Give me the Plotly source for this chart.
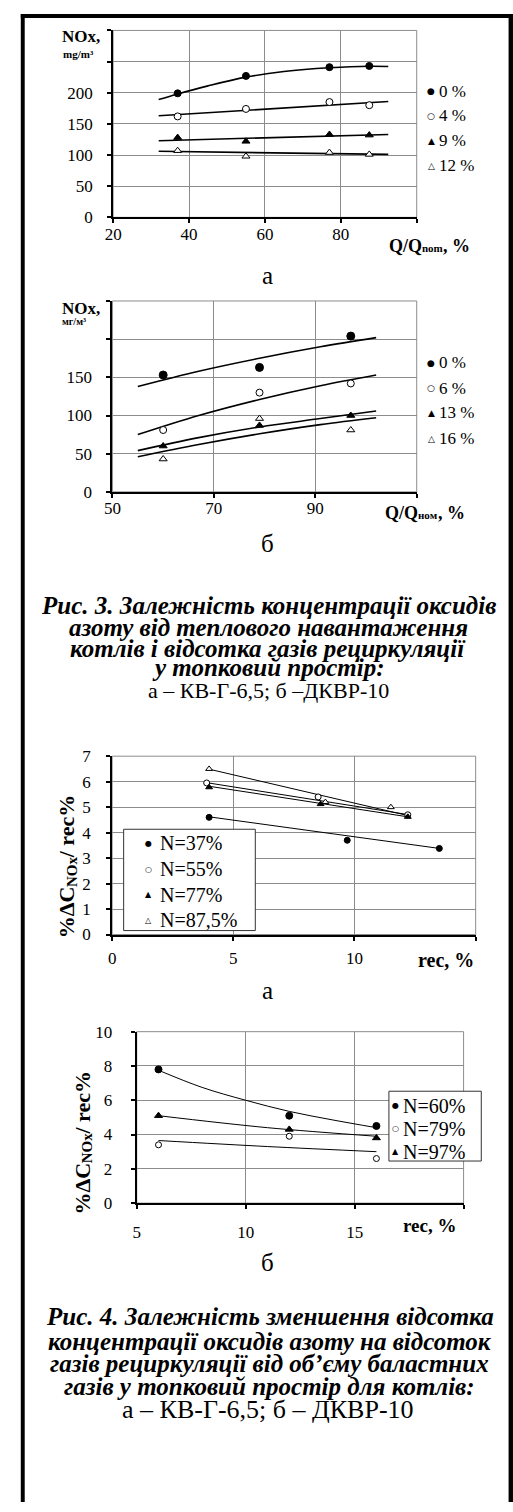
import plotly.graph_objects as go

# ---------------- DATA ----------------
# Fig.3a  (KV-G-6,5): NOx vs load, recirculation 0/4/9/12 %
load_a = [37, 55, 77, 87.5]
nox_a_0 = [199, 227, 241, 243]
nox_a_4 = [162, 174, 185, 180]
nox_a_9 = [128, 122, 133, 132]
nox_a_12 = [107, 98, 104, 101]
trend_a_x_curve = [32, 37, 45, 55, 65, 77, 87.5, 92.5]
trend_a_0 = [189, 198, 211, 225, 234, 240, 242.5, 242]
trend_a_x_line = [32, 92.5]
trend_a_4 = [163, 186]
trend_a_9 = [123, 133]
trend_a_12 = [106, 101]
legend_a = ["0 %", "4 %", "9 %", "12 %"]
xt_a, xt_a_extra = [20, 40, 60, 80], [100]
yt_a, yt_a_extra = [0, 50, 100, 150, 200], [250, 300]

# Fig.3b (DKVR-10)
load_b = [60, 79, 97]
nox_b_0 = [153, 163, 204]
nox_b_6 = [81, 130, 142]
nox_b_13 = [60, 87, 100]
nox_b_16 = [43, 96, 81]
trend_b_x = [55, 67, 79, 91, 102]
trend_b_0 = [138, 158, 175, 190, 202]
trend_b_6 = [75, 100, 121, 139, 153]
trend_b_13 = [54, 71, 85, 96, 106]
trend_b_16 = [46, 62, 76, 88, 97]
legend_b = ["0 %", "6 %", "13 %", "16 %"]
xt_b, xt_b_extra = [50, 70, 90], [110]
yt_b, yt_b_extra = [0, 50, 100, 150], [200, 250]

# Fig.4a
rec_4a_37 = [4.0, 9.7, 13.5]
val_4a_37 = [4.6, 3.7, 3.38]
rec_4a_55 = [3.9, 8.5, 12.2]
val_4a_55 = [5.95, 5.4, 4.7]
rec_4a_77 = [4.0, 8.6, 12.2]
val_4a_77 = [5.78, 5.12, 4.62]
rec_4a_875 = [4.0, 8.8, 11.5]
val_4a_875 = [6.5, 5.2, 5.0]
trend_4a_37_x = [4.0, 13.5]
trend_4a_37 = [4.62, 3.38]
trend_4a_55_x = [3.9, 12.2]
trend_4a_55 = [5.96, 4.71]
trend_4a_77_x = [4.0, 12.2]
trend_4a_77 = [5.82, 4.62]
trend_4a_875_x = [4.0, 12.2]
trend_4a_875 = [6.49, 4.67]
legend_4a = ["N=37%", "N=55%", "N=77%", "N=87,5%"]
xt_4a, xt_4a_extra = [0, 5, 10], [15]
yt_4a, yt_4a_extra = [0, 1, 2, 3, 4, 5, 6, 7], []

# Fig.4b
rec_4b = [6, 12, 16]
val_4b_60 = [7.8, 5.1, 4.5]
val_4b_79 = [3.4, 3.9, 2.6]
val_4b_97 = [5.1, 4.3, 3.8]
trend_4b_60_x = [6, 8, 10, 12, 14, 16]
trend_4b_60 = [7.75, 6.75, 6.0, 5.35, 4.85, 4.4]
trend_4b_x = [6, 11, 16]
trend_4b_79 = [3.65, 3.3, 3.0]
trend_4b_97 = [5.1, 4.4, 3.9]
legend_4b = ["N=60%", "N=79%", "N=97%"]
xt_4b, xt_4b_extra = [5, 10, 15], [20]
yt_4b, yt_4b_extra = [0, 2, 4, 6, 8, 10], []

caption3 = ["Рис. 3. Залежність концентрації оксидів",
            "азоту від теплового навантаження",
            "котлів і відсотка газів рециркуляції",
            "у топковий простір:"]
caption3_sub = "а – КВ-Г-6,5; б –ДКВР-10"
caption4 = ["Рис. 4. Залежність зменшення відсотка",
            "концентрації оксидів азоту на відсоток",
            "газів рециркуляції від об’єму баластних",
            "газів у топковий простір для котлів:"]
caption4_sub = "а – КВ-Г-6,5; б – ДКВР-10"

# ---------------- LAYOUT HELPERS ----------------
W, H = 513, 1512
SERIF = "Liberation Serif"
GRID = "#8c8c8c"


def px(x):
    return x / W


def py(y):
    return 1 - y / H


fig = go.Figure()
annotations = []
shapes = []


def ann(text, x, y, size, xanchor="center", yanchor="middle", family=SERIF, angle=0):
    annotations.append(dict(text=text, x=px(x), y=py(y), xref="paper", yref="paper",
                            xanchor=xanchor, yanchor=yanchor, showarrow=False,
                            textangle=angle, font=dict(family=family, size=size, color="black"),
                            borderpad=0))


def axes(n, xr, yr, box, xtv, xextra, ytv, yextra, xstand, ystand):
    x0, y0, x1, y1 = box
    sfx = "" if n == 1 else str(n)
    common = dict(showgrid=True, gridcolor=GRID, gridwidth=1, showline=True,
                  linecolor="black", linewidth=2, ticks="outside", ticklen=4,
                  tickwidth=1.5, tickcolor="black", zeroline=False, fixedrange=True,
                  tickfont=dict(family=SERIF, size=17, color="black"), tickmode="array")
    fig.layout["xaxis" + sfx] = dict(
        domain=[px(x0), px(x1)], range=xr, tickvals=xtv, ticktext=[str(v) for v in xtv],
        anchor="y" + sfx, ticklabelstandoff=xstand,
        minor=dict(tickmode="array", tickvals=xextra, showgrid=True, gridcolor=GRID,
                   gridwidth=1, ticks="outside", ticklen=4, tickwidth=1.5, tickcolor="black"),
        **common)
    fig.layout["yaxis" + sfx] = dict(
        domain=[py(y1), py(y0)], range=yr, tickvals=ytv, ticktext=[str(v) for v in ytv],
        anchor="x" + sfx, ticklabelstandoff=ystand,
        minor=dict(tickmode="array", tickvals=yextra, showgrid=True, gridcolor=GRID,
                   gridwidth=1, ticks="outside", ticklen=4, tickwidth=1.5, tickcolor="black"),
        **common)
    shapes.append(dict(type="rect", xref="x" + sfx + " domain", yref="y" + sfx + " domain",
                       x0=0, x1=1, y0=0, y1=1, line=dict(color=GRID, width=1), layer="below"))


def markers(n, x, y, symbol, filled, size):
    sfx = "" if n == 1 else str(n)
    fig.add_trace(go.Scatter(x=x, y=y, mode="markers", xaxis="x" + sfx, yaxis="y" + sfx,
                             showlegend=False, cliponaxis=False, hoverinfo="skip",
                             marker=dict(symbol=symbol, size=size,
                                         color="black" if filled else "white",
                                         line=dict(color="black", width=1))))


def trend(n, x, y, width, spline=False):
    sfx = "" if n == 1 else str(n)
    fig.add_trace(go.Scatter(x=x, y=y, mode="lines", xaxis="x" + sfx, yaxis="y" + sfx,
                             showlegend=False, hoverinfo="skip",
                             line=dict(color="black", width=width,
                                       shape="spline" if spline else "linear")))


def q_label(x_left, y_mid, sub):
    # "Q/Q" + small "nom"/"ном" + ", %"  (bold)
    ann("<b>Q/Q</b>", x_left, y_mid, 18, xanchor="left")
    ann("<b>" + sub + "</b>", x_left + 33.5, y_mid + 2.5, 11, xanchor="left")
    ann("<b>, %</b>", x_left + 33.5 + (21 if sub == "nom" else 20), y_mid, 18, xanchor="left")


def rot_title(y_bottom, x_mid):
    # "%ΔC" + subscript "NOx" + "/ rec%", rotated, reading bottom to top
    w1, w2, w3 = 51.3, 30.0, 62.9
    ann("<b>%ΔC</b>", x_mid, y_bottom - w1 / 2, 22, angle=-90)
    ann("<b>NOx</b>", x_mid + 5, y_bottom - w1 - w2 / 2, 15, angle=-90)
    ann("<b>/ rec%</b>", x_mid, y_bottom - w1 - w2 - w3 / 2, 22, angle=-90)


GLYPHS = ["●", "○", "▲", "△"]

# ---------------- Fig 3a ----------------
axes(1, [20, 100], [0, 300], (106, 21.7, 415, 211), xt_a, xt_a_extra, yt_a, yt_a_extra, -4, 11)
trend(1, trend_a_x_curve, trend_a_0, 1.6, spline=True)
trend(1, trend_a_x_line, trend_a_4, 1.6)
trend(1, trend_a_x_line, trend_a_9, 1.6)
trend(1, trend_a_x_line, trend_a_12, 1.6)
markers(1, load_a, nox_a_0, "circle", True, 7)
markers(1, load_a, nox_a_4, "circle", False, 7)
markers(1, load_a, nox_a_9, "triangle-up", True, 7)
markers(1, load_a, nox_a_12, "triangle-up", False, 7)
ann("<b>NOx,</b>", 53, 28, 17, xanchor="left")
ann("<b>mg/m³</b>", 54, 46, 11, xanchor="left")
q_label(386, 240, "nom")
for i, (g, t) in enumerate(zip(GLYPHS, legend_a)):
    yy = [83.3, 108.3, 133.3, 158.7][i]
    ann(g, 430, yy, 9, family="DejaVu Sans")
    ann(t, 437, yy, 17, xanchor="left")
ann("а", 263, 269.5, 25)

# ---------------- Fig 3b ----------------
axes(2, [50, 110], [0, 250], (105.3, 295.7, 415, 489), xt_b, xt_b_extra, yt_b, yt_b_extra, -4, 11)
trend(2, trend_b_x, trend_b_0, 1.6, spline=True)
trend(2, trend_b_x, trend_b_6, 1.6, spline=True)
trend(2, trend_b_x, trend_b_13, 1.6, spline=True)
trend(2, trend_b_x, trend_b_16, 1.6, spline=True)
markers(2, load_b, nox_b_0, "circle", True, 8)
markers(2, load_b, nox_b_6, "circle", False, 7)
markers(2, load_b, nox_b_13, "triangle-up", True, 7)
markers(2, load_b, nox_b_16, "triangle-up", False, 7)
ann("<b>NOx,</b>", 52.7, 303.3, 17, xanchor="left")
ann("<b>мг/м³</b>", 53, 316, 10, xanchor="left")
q_label(382, 510, "ном")
for i, (g, t) in enumerate(zip(GLYPHS, legend_b)):
    yy = [358.3, 384, 409, 435][i]
    ann(g, 430, yy, 9, family="DejaVu Sans")
    ann(t, 437, yy, 17, xanchor="left")
ann("б", 263, 541, 25)

# ---------------- Fig 3 caption ----------------
for t, yy in zip(caption3, [604, 626.3, 647.6, 667.3]):
    ann("<b><i>" + t + "</i></b>", 264, yy, 25)
ann(caption3_sub, 264, 690.5, 22)

# ---------------- Fig 4a ----------------
axes(3, [0, 15], [0, 7], (105, 756.7, 475, 937.3), xt_4a, xt_4a_extra, yt_4a, yt_4a_extra, 3, 12)
trend(3, trend_4a_37_x, trend_4a_37, 1)
trend(3, trend_4a_55_x, trend_4a_55, 1)
trend(3, trend_4a_77_x, trend_4a_77, 1)
trend(3, trend_4a_875_x, trend_4a_875, 1)
markers(3, rec_4a_37, val_4a_37, "circle", True, 6)
markers(3, rec_4a_55, val_4a_55, "circle", False, 6)
markers(3, rec_4a_77, val_4a_77, "triangle-up", True, 6)
markers(3, rec_4a_875, val_4a_875, "triangle-up", False, 6)
shapes.append(dict(type="rect", xref="paper", yref="paper", x0=px(116.7), x1=px(250.7),
                   y0=py(933.3), y1=py(830.7), fillcolor="white",
                   line=dict(color="#333333", width=1), layer="above"))
for i, (g, t) in enumerate(zip(GLYPHS, legend_4a)):
    yy = [845, 871, 897, 922.7][i]
    ann(g, 141.7, yy, 8, family="DejaVu Sans")
    ann(t, 152.7, yy, 20, xanchor="left")
rot_title(940, 58.5)
ann("<b>rec, %</b>", 415, 962.7, 20, xanchor="left")
ann("а", 263, 994, 25)

# ---------------- Fig 4b ----------------
axes(4, [5, 20], [0, 10], (130, 1035.7, 462.7, 1209.3), xt_4b, xt_4b_extra, yt_4b, yt_4b_extra, 8, 15)
trend(4, trend_4b_60_x, trend_4b_60, 1, spline=True)
trend(4, trend_4b_x, trend_4b_79, 1, spline=True)
trend(4, trend_4b_x, trend_4b_97, 1, spline=True)
markers(4, rec_4b, val_4b_60, "circle", True, 7)
markers(4, rec_4b, val_4b_79, "circle", False, 6)
markers(4, rec_4b, val_4b_97, "triangle-up", True, 7)
shapes.append(dict(type="rect", xref="paper", yref="paper", x0=px(386.7), x1=px(480.7),
                   y0=py(1166.7), y1=py(1096), fillcolor="white",
                   line=dict(color="#333333", width=1), layer="above"))
for i, (g, t) in enumerate(zip(GLYPHS[:3], legend_4b)):
    yy = [1110.7, 1134, 1157.3][i]
    ann(g, 393.3, yy, 8, family="DejaVu Sans")
    ann(t, 400, yy, 20, xanchor="left")
rot_title(1220, 74.5)
ann("<b>rec, %</b>", 400, 1231.7, 19, xanchor="left")
ann("б", 263, 1269, 25)

# ---------------- Fig 4 caption ----------------
for t, yy in zip(caption4, [1324.5, 1349, 1371.3, 1395]):
    ann("<b><i>" + t + "</i></b>", 265.5, yy, 25)
ann(caption4_sub, 264, 1418, 26)

# ---------------- page border ----------------
for (x0, y0, x1, y1) in [(12, 5, 16, 1512), (12, 5, 513, 9), (508.5, 5, 513, 1512)]:
    shapes.append(dict(type="rect", xref="paper", yref="paper", x0=px(x0), x1=px(x1),
                       y0=py(y1), y1=py(y0), fillcolor="black", line=dict(width=0),
                       layer="above"))

fig.update_layout(width=W, height=H, margin=dict(l=0, r=0, t=0, b=0),
                  paper_bgcolor="white", plot_bgcolor="white", showlegend=False,
                  annotations=annotations, shapes=shapes,
                  font=dict(family=SERIF, color="black"))
fig.write_html("out.html", config={"displayModeBar": False})
